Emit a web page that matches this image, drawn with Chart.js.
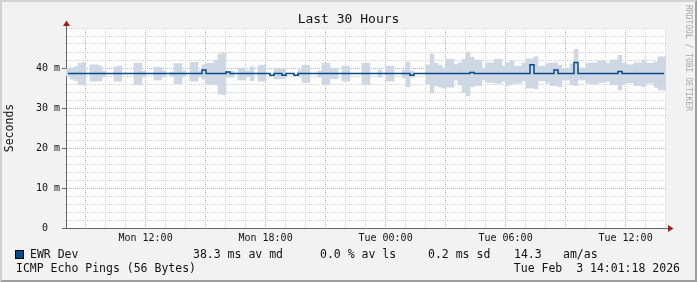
<!DOCTYPE html>
<html>
<head>
<meta charset="utf-8">
<script src="https://cdn.jsdelivr.net/npm/chart.js@4.4.1/dist/chart.umd.min.js"></script>
<style>
  body { margin: 0; background: #fff; }
  #wrap { position: relative; width: 697px; height: 282px; background: #f2f2f2; font-family: "DejaVu Sans Mono", monospace; color: #111; overflow: hidden; }
  #chart { position: absolute; left: 0; top: 0; }
  #frame { position: absolute; left: 0; top: 0; width: 697px; height: 282px; box-sizing: border-box;
           border-top: 2px solid #d2d2d2; border-left: 2px solid #d2d2d2;
           border-right: 2px solid #9e9e9e; border-bottom: 2px solid #9e9e9e; pointer-events: none; }
  .t { position: absolute; white-space: pre; }
  #title { left: 0; width: 697px; top: 11px; text-align: center; font-size: 13px; line-height: 16px; }
  .leg { font-size: 11.5px; line-height: 14px; }
  #swatch { position: absolute; left: 15px; top: 250px; width: 9px; height: 9px; box-sizing: border-box; border: 1px solid #000; }
  #mark { left: 683px; top: 5px; font-size: 8px; line-height: 10px; color: #a8a8a8; writing-mode: vertical-rl; }
</style>
</head>
<body>
<div id="wrap">
  <canvas id="chart" width="697" height="282"></canvas>
  <div id="title" class="t"></div>
  <div id="mark" class="t"></div>
  <div id="swatch"></div>
  <div id="frame"></div>
</div>
<script>
// chart texts
const chartTitle = 'Last 30 Hours';
const yTitle = 'Seconds';
const watermark = 'RRDTOOL / TOBI OETIKER';
const seriesName = 'EWR Dev';
const seriesStats = ['38.3 ms av md', '0.0 % av ls', '0.2 ms sd', '14.3', 'am/as'];
const probeName = 'ICMP Echo Pings (56 Bytes)';
const dateStamp = 'Tue Feb  3 14:01:18 2026';

// x axis: hours since Mon 00:00, window starts Mon 08:01:18, 12 min per bin
const startHour = 8 + 1 / 60 + 18 / 3600;
const spanHours = 30;
const binHours = 0.2;
const xTickHours = [12, 18, 24, 30, 36];
const xTickLabels = ['Mon 12:00', 'Mon 18:00', 'Tue 00:00', 'Tue 06:00', 'Tue 12:00'];

// smoke band (ms), top and bottom of each 12-minute bin, null = no samples drawn
const smokeHi = [
  39.8, 40.0, 40.3, 41.2, 41.4, null, 40.8, 40.8, 40.5, 39.2,
  null, null, 40.3, 40.5, null, null, null, 41.2, 41.2, 39.2,
  null, null, 40.2, 40.2, 39.3, null, 39.0, 41.1, 41.1, 39.3,
  null, 41.4, 41.4, 39.3, 40.8, 41.2, 41.2, 42.0, 43.5, 43.7,
  39.2, 39.2, null, 40.0, 40.0, 39.3, 40.3, null, 40.7, 40.7,
  null, null, 39.8, 39.8, 39.8, null, null, null, 39.5, 40.7,
  40.7, null, null, 39.3, 41.2, 41.2, 40.0, 39.8, null, 40.5,
  40.5, null, null, null, 41.2, 41.2, null, null, 39.5, null,
  40.5, 40.5, null, null, 39.5, 41.5, 39.3, null, null, null,
  40.8, 43.5, 41.2, 40.7, 40.0, 42.2, 42.2, 40.8, 41.3, 42.2,
  44.0, 42.7, 42.0, 42.0, 40.0, 41.3, 41.3, 42.2, 42.2, 40.5,
  41.3, 41.8, 40.5, 40.5, 41.3, 42.3, 42.3, 42.8, 40.5, 40.5,
  41.2, 41.3, 41.3, 40.7, 39.8, 39.8, 41.0, 44.7, 40.0, 40.0,
  41.2, 41.3, 41.3, 41.8, 41.8, 41.2, 42.0, 42.0, 43.2, 41.2,
  40.8, 40.8, 41.3, 41.3, 42.0, 41.2, 41.2, 41.5, 42.8, 42.8
];
const smokeLo = [
  38.0, 37.2, 36.8, 35.8, 35.7, null, 36.7, 36.7, 36.8, 37.8,
  null, null, 36.7, 36.7, null, null, null, 35.8, 35.8, 37.8,
  null, null, 37.0, 37.0, 37.8, null, 38.0, 36.1, 36.1, 37.8,
  null, 36.7, 36.7, 37.8, 37.2, 35.9, 35.9, 35.8, 33.5, 33.3,
  37.7, 37.7, null, 37.0, 37.0, 37.8, 36.8, null, 36.7, 36.7,
  null, null, 37.3, 37.3, 37.3, null, null, null, 37.8, 36.4,
  36.4, null, null, 37.7, 35.8, 35.8, 37.3, 37.3, null, 36.7,
  36.7, null, null, null, 35.8, 35.8, null, null, 37.7, null,
  36.7, 36.7, null, null, 37.5, 35.3, 37.7, null, null, null,
  36.0, 33.7, 35.6, 35.3, 35.0, 35.2, 35.2, 37.0, 35.8, 33.9,
  33.1, 35.3, 35.6, 35.6, 37.0, 36.4, 36.4, 36.2, 36.2, 36.7,
  35.6, 36.0, 36.2, 36.2, 36.8, 35.0, 35.0, 34.8, 36.8, 36.8,
  36.2, 35.6, 35.6, 35.3, 37.0, 37.0, 35.8, 35.6, 37.0, 37.0,
  36.2, 36.0, 36.0, 36.4, 36.4, 36.7, 35.8, 35.8, 34.5, 36.0,
  36.3, 36.3, 35.6, 35.6, 35.3, 36.2, 36.2, 35.2, 34.5, 34.5
];
// median RTT (ms) per bin
const median = [
  38.6, 38.6, 38.6, 38.6, 38.6, 38.6, 38.6, 38.6, 38.6, 38.6,
  38.6, 38.6, 38.6, 38.6, 38.6, 38.6, 38.6, 38.6, 38.6, 38.6,
  38.6, 38.6, 38.6, 38.6, 38.6, 38.6, 38.6, 38.6, 38.6, 38.6,
  38.6, 38.6, 38.6, 38.6, 39.5, 38.6, 38.6, 38.6, 38.6, 38.6,
  39.0, 38.6, 38.6, 38.6, 38.6, 38.6, 38.6, 38.6, 38.6, 38.6,
  38.6, 38.2, 38.6, 38.6, 38.2, 38.6, 38.6, 38.2, 38.6, 38.6,
  38.6, 38.6, 38.6, 38.6, 38.6, 38.6, 38.6, 38.6, 38.6, 38.6,
  38.6, 38.6, 38.6, 38.6, 38.6, 38.6, 38.6, 38.6, 38.6, 38.6,
  38.6, 38.6, 38.6, 38.6, 38.6, 38.6, 38.2, 38.6, 38.6, 38.6,
  38.6, 38.6, 38.6, 38.6, 38.6, 38.6, 38.6, 38.6, 38.6, 38.6,
  38.6, 38.9, 38.6, 38.6, 38.6, 38.6, 38.6, 38.6, 38.6, 38.6,
  38.6, 38.6, 38.6, 38.6, 38.6, 38.6, 40.8, 38.6, 38.6, 38.6,
  38.6, 38.6, 39.5, 38.6, 38.6, 38.6, 38.6, 41.4, 38.6, 38.6,
  38.6, 38.6, 38.6, 38.6, 38.6, 38.6, 38.6, 38.6, 39.1, 38.6,
  38.6, 38.6, 38.6, 38.6, 38.6, 38.6, 38.6, 38.6, 38.6, 38.6
];

const FONT = '"DejaVu Sans Mono", monospace';
const smokeColor = '#cdd8e4';
const lineColor = '#0a4a8a';
const axisColor = '#666666';
const arrowColor = '#9a1f1f';
const minorGrid = '#cfcfcf';
const majorGrid = '#e8a0a0';

Chart.defaults.font.family = FONT;
Chart.defaults.color = '#111';

// html texts
document.getElementById('title').textContent = chartTitle;
document.getElementById('mark').textContent = watermark;
document.getElementById('swatch').style.background = lineColor;
const wrap = document.getElementById('wrap');
function addText(str, left, top) {
  const d = document.createElement('div');
  d.className = 't leg';
  d.style.left = left + 'px';
  d.style.top = top + 'px';
  d.textContent = str;
  wrap.insertBefore(d, document.getElementById('frame'));
  return d;
}
addText(seriesName, 30, 247);
const statLeft = [193, 320, 428, 514, 563];
seriesStats.forEach((s, i) => addText(s, statLeft[i], 247));
addText(probeName, 16, 261);
const ds = addText(dateStamp, 0, 261);
ds.style.left = 'auto';
ds.style.right = '17px';

const binTime = i => startHour + binHours / 2 + i * binHours;
const smokeData = [];
smokeHi.forEach((hi, i) => {
  if (hi !== null) smokeData.push({ x: binTime(i), y: [smokeLo[i], hi] });
});
const medianData = median.map((v, i) => ({ x: binTime(i), y: v }));

const framePlugin = {
  id: 'framePlugin',
  beforeDraw(chart) {
    const { ctx, chartArea: a } = chart;
    ctx.save();
    ctx.fillStyle = '#ffffff';
    ctx.fillRect(a.left, a.top, a.right - a.left, a.bottom - a.top);
    ctx.restore();
  },
  afterDraw(chart) {
    const { ctx, chartArea: a } = chart;
    const x0 = Math.round(a.left) + 0.5;
    const y0 = Math.round(a.bottom) + 0.5;
    ctx.save();
    ctx.strokeStyle = axisColor;
    ctx.lineWidth = 1;
    ctx.beginPath();
    ctx.moveTo(x0, a.top); ctx.lineTo(x0, a.top - 3);
    ctx.moveTo(a.right, y0); ctx.lineTo(a.right + 3, y0);
    ctx.moveTo(x0, y0); ctx.lineTo(x0 - 4, y0);
    ctx.stroke();
    ctx.fillStyle = arrowColor;
    ctx.beginPath();
    ctx.moveTo(x0 - 3.5, a.top - 2); ctx.lineTo(x0 + 3.5, a.top - 2); ctx.lineTo(x0, a.top - 7.5);
    ctx.closePath(); ctx.fill();
    ctx.beginPath();
    ctx.moveTo(a.right + 2, y0 - 3.5); ctx.lineTo(a.right + 2, y0 + 3.5); ctx.lineTo(a.right + 7.5, y0);
    ctx.closePath(); ctx.fill();
    ctx.restore();
  }
};

new Chart(document.getElementById('chart'), {
  type: 'line',
  data: {
    datasets: [
      {
        type: 'line',
        label: seriesName,
        data: medianData,
        borderColor: lineColor,
        borderWidth: 1.5,
        pointRadius: 0,
        stepped: 'middle',
        fill: false,
        order: 0
      },
      {
        type: 'bar',
        label: 'smoke',
        data: smokeData,
        backgroundColor: smokeColor,
        borderWidth: 0,
        barPercentage: 1,
        categoryPercentage: 1,
        order: 1
      }
    ]
  },
  options: {
    responsive: false,
    animation: false,
    events: [],
    layout: { padding: { left: 0, top: 28, right: 31, bottom: 0 } },
    plugins: { legend: { display: false }, tooltip: { enabled: false }, title: { display: false } },
    scales: {
      x: {
        type: 'linear',
        min: startHour,
        max: startHour + spanHours,
        offset: false,
        afterFit: s => { s.height = 54; },
        afterBuildTicks: s => {
          const t = [];
          for (let h = Math.ceil(startHour); h <= startHour + spanHours; h++) t.push({ value: h });
          s.ticks = t;
        },
        grid: {
          offset: false,
          drawTicks: false,
          lineWidth: 1,
          color: c => (c.tick && c.tick.value % 3 === 0) ? majorGrid : minorGrid
        },
        border: { display: true, color: axisColor, width: 1, dash: [1, 1] },
        ticks: {
          autoSkip: false,
          maxRotation: 0,
          padding: 4,
          color: '#111',
          font: { size: 10 },
          callback: v => {
            const k = xTickHours.indexOf(v);
            return k >= 0 ? xTickLabels[k] : '';
          }
        }
      },
      y: {
        type: 'linear',
        min: 0,
        max: 50,
        afterFit: s => { s.width = 66; },
        grid: {
          lineWidth: 1,
          tickLength: 4,
          color: c => (c.tick && c.tick.value % 10 === 0 && c.tick.value < 50) ? majorGrid : minorGrid,
          tickColor: c => (c.tick && c.tick.value % 10 === 0 && c.tick.value < 50) ? axisColor : 'rgba(0,0,0,0)'
        },
        border: { display: true, color: axisColor, width: 1, dash: [1, 1] },
        title: { display: true, text: yTitle, color: '#111', font: { size: 11.5 }, padding: { top: 3, bottom: 0 } },
        ticks: {
          stepSize: 2,
          autoSkip: false,
          padding: 2,
          color: '#111',
          font: { size: 10 },
          callback: v => {
            if (v % 10 !== 0 || v >= 50) return '';
            return v === 0 ? '0  ' : v + ' m';
          }
        }
      }
    }
  },
  plugins: [framePlugin]
});
</script>
</body>
</html>
